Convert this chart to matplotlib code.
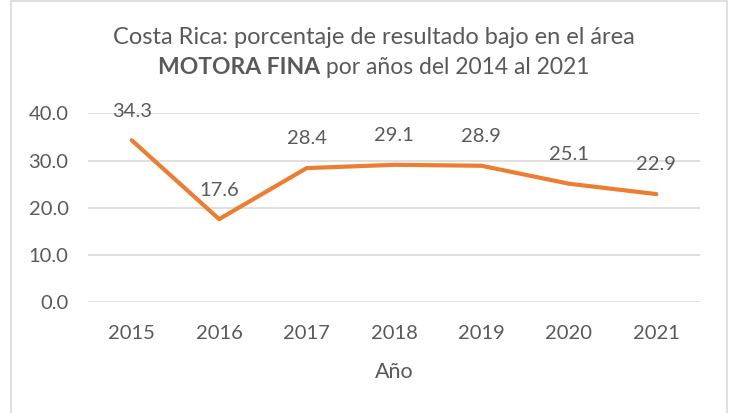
import matplotlib.pyplot as plt
from matplotlib.patches import Rectangle

# data
years = ['2015', '2016', '2017', '2018', '2019', '2020', '2021']
pct_bajo = [34.3, 17.6, 28.4, 29.1, 28.9, 25.1, 22.9]
y_ticks = [0, 10, 20, 30, 40]

title_l1 = 'Costa Rica: porcentaje de resultado bajo en el área'
title_bold = 'MOTORA FINA'
title_rest = 'por años del 2014 al 2021'
x_title = 'Año'

W, H = 730, 413
txt_col = '#595959'
grid_col = '#D9D9D9'
line_col = '#ED7D31'
plt.rcParams['font.family'] = ['Lato', 'DejaVu Sans']

fig = plt.figure(figsize=(W / 100, H / 100), dpi=100)

# chart border (bottom edge is cut off in the reference)
fig.patches.append(Rectangle((11 / W, -0.05), (727 - 11) / W, 1 + 0.05 - 1.5 / H,
                             transform=fig.transFigure, fill=False,
                             edgecolor=grid_col, lw=1.2))

# plot area in pixels
left, right, top, bottom = 88, 700, 113.3, 302.3
ax = fig.add_axes([left / W, 1 - bottom / H, (right - left) / W, (bottom - top) / H])

xs = list(range(len(years)))
ax.plot(xs, pct_bajo, color=line_col, lw=3, solid_capstyle='round', zorder=3)
for x, v in zip(xs, pct_bajo):
    ax.annotate(f'{v:.1f}', (x, v), xytext=(0, 17), textcoords='offset points',
                ha='center', va='baseline', fontsize=14.5, color=txt_col, zorder=4)

ax.set_xlim(-0.5, len(years) - 0.5)
ax.set_ylim(0, 40)
ax.set_yticks(y_ticks)
ax.set_yticklabels([f'{t:.1f}' for t in y_ticks])
ax.set_xticks(xs)
ax.set_xticklabels(years)
ax.grid(axis='y', color=grid_col, lw=1.2)
ax.set_axisbelow(True)
for s in ax.spines.values():
    s.set_visible(False)
ax.tick_params(axis='both', length=0, labelsize=14.5, labelcolor=txt_col)
ax.tick_params(axis='y', pad=14)
ax.tick_params(axis='x', pad=16)

# axis title
fig.text((left + right) / 2 / W, 1 - 372 / H, x_title, ha='center', va='center',
         fontsize=15.5, color=txt_col)

# title, line 1
cx = 374
fig.text(cx / W, 1 - 43.5 / H, title_l1, ha='center', va='baseline',
         fontsize=17, color=txt_col)

# title, line 2: bold part + regular part, centred together
renderer = fig.canvas.get_renderer()
tb = fig.text(0, 1 - 73.5 / H, title_bold, ha='left', va='baseline',
              fontsize=16.5, fontweight='bold', color=txt_col)
tr = fig.text(0, 1 - 73.5 / H, ' ' + title_rest, ha='left', va='baseline',
              fontsize=16.5, color=txt_col)
wb = tb.get_window_extent(renderer).width
wr = tr.get_window_extent(renderer).width
x0 = cx - (wb + wr) / 2
tb.set_x(x0 / W)
tr.set_x((x0 + wb) / W)

fig.savefig('out.png', dpi=100, facecolor='white')
